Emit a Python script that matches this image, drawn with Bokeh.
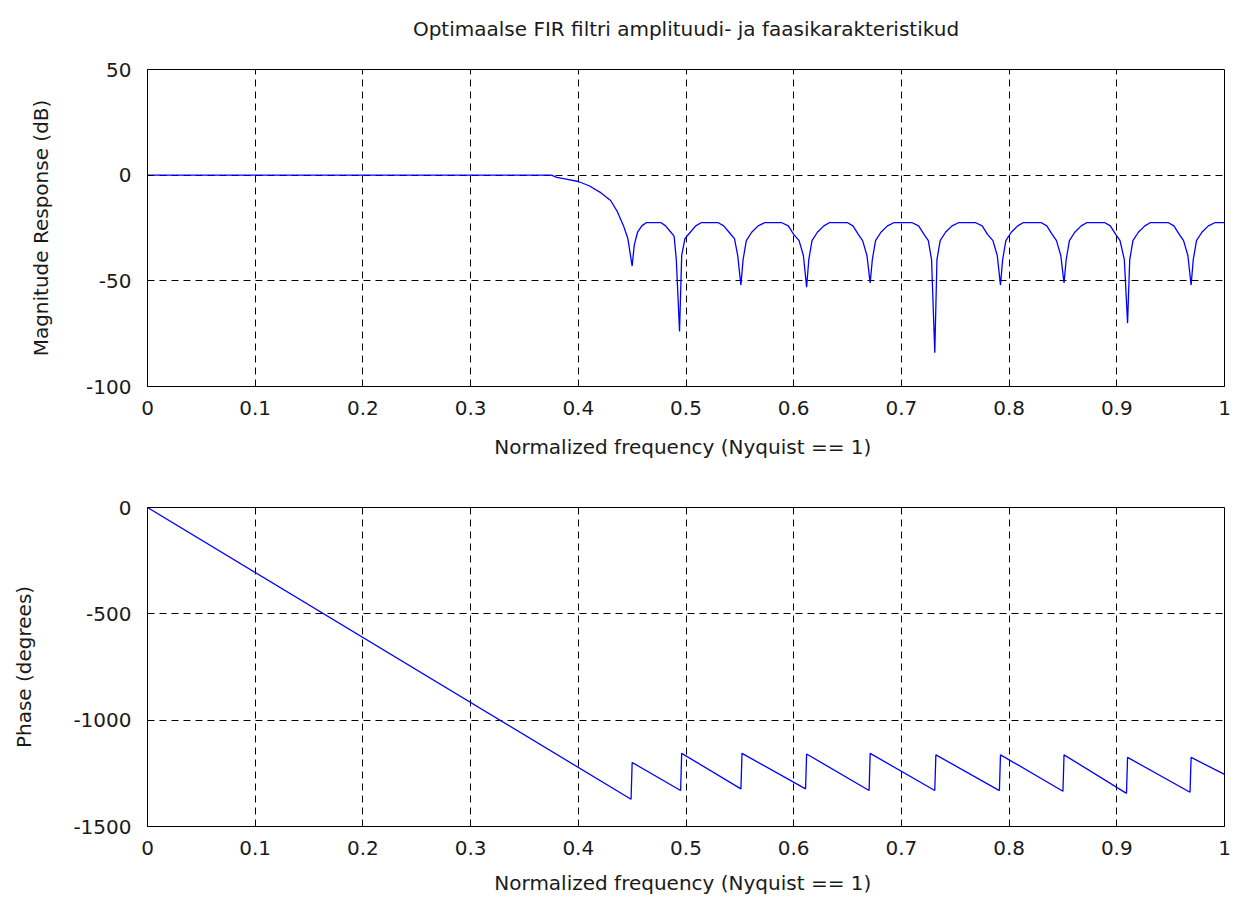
from bokeh.plotting import figure
from bokeh.models import Range1d, FixedTicker, Title
from bokeh.layouts import column
from bokeh.embed import file_html
from bokeh.resources import INLINE

# ---- data ----
mag_freq = [0.000, 0.375, 0.380, 0.390, 0.400, 0.410, 0.420, 0.430, 0.436, 0.442, 0.446, 0.450,
            0.452, 0.455, 0.459, 0.463, 0.477, 0.481, 0.486, 0.489, 0.491, 0.494,
            0.496, 0.499, 0.504, 0.509, 0.514, 0.530, 0.535, 0.540, 0.545, 0.548, 0.551,
            0.553, 0.556, 0.561, 0.567, 0.573, 0.589, 0.595, 0.600, 0.605, 0.609, 0.612,
            0.614, 0.617, 0.622, 0.628, 0.633, 0.650, 0.655, 0.660, 0.664, 0.668, 0.671,
            0.673, 0.676, 0.681, 0.687, 0.693, 0.710, 0.716, 0.721, 0.725, 0.728, 0.731,
            0.733, 0.736, 0.741, 0.747, 0.753, 0.769, 0.775, 0.780, 0.785, 0.789, 0.792,
            0.794, 0.797, 0.802, 0.808, 0.813, 0.830, 0.835, 0.840, 0.844, 0.848, 0.851,
            0.853, 0.856, 0.861, 0.867, 0.872, 0.889, 0.894, 0.899, 0.903, 0.907, 0.910,
            0.912, 0.915, 0.920, 0.926, 0.931, 0.948, 0.953, 0.958, 0.962, 0.966, 0.969,
            0.971, 0.974, 0.979, 0.985, 0.991, 1.000]
mag_db = [0.0, 0.0, -1.0, -2.0, -3.0, -5.0, -8.0, -12.0, -17.0, -24.0, -30.0, -43.0,
          -33.0, -27.0, -24.0, -22.5, -22.5, -24.0, -27.0, -29.0, -40.0, -74.0,
          -38.0, -30.0, -27.0, -24.0, -22.5, -22.5, -24.0, -27.0, -30.0, -38.0, -52.0,
          -40.0, -31.0, -27.0, -24.0, -22.5, -22.5, -24.0, -28.0, -31.0, -38.0, -53.0,
          -40.0, -31.0, -27.0, -24.0, -22.5, -22.5, -24.0, -28.0, -31.0, -38.0, -51.0,
          -40.0, -31.0, -27.0, -24.0, -22.5, -22.5, -24.0, -28.0, -31.0, -40.0, -84.0,
          -40.0, -31.0, -27.0, -24.0, -22.5, -22.5, -24.0, -28.0, -31.0, -38.0, -52.0,
          -40.0, -31.0, -27.0, -24.0, -22.5, -22.5, -24.0, -28.0, -31.0, -38.0, -51.0,
          -40.0, -31.0, -27.0, -24.0, -22.5, -22.5, -24.0, -28.0, -31.0, -40.0, -70.0,
          -40.0, -31.0, -27.0, -24.0, -22.5, -22.5, -24.0, -28.0, -31.0, -38.0, -52.0,
          -40.0, -31.0, -27.0, -24.0, -22.5, -22.5]

phase_freq = [0.000, 0.449, 0.450, 0.495, 0.496, 0.551, 0.552, 0.611, 0.612,
              0.670, 0.671, 0.731, 0.732, 0.791, 0.792, 0.850, 0.851, 0.909, 0.910,
              0.968, 0.969, 1.000]
phase_deg = [0, -1372, -1199, -1331, -1156, -1323, -1156, -1323, -1159,
             -1331, -1156, -1331, -1163, -1331, -1163, -1334, -1163, -1344, -1175,
             -1339, -1175, -1255]

x_ticks = [0, 0.1, 0.2, 0.3, 0.4, 0.5, 0.6, 0.7, 0.8, 0.9, 1.0]
x_tick_labels = ["0", "0.1", "0.2", "0.3", "0.4", "0.5", "0.6", "0.7", "0.8", "0.9", "1"]
mag_ticks = [-100, -50, 0, 50]
phase_ticks = [-1500, -1000, -500, 0]

title_text = "Optimaalse FIR filtri amplituudi- ja faasikarakteristikud"
x_label = "Normalized frequency  (Nyquist == 1)"
mag_label = "Magnitude Response (dB)"
phase_label = "Phase (degrees)"

FONT = "DejaVu Sans"
FS = "20px"


def style(p, yticks, ylabel, ylabel_standoff, xlabel_standoff):
    p.xaxis.ticker = FixedTicker(ticks=x_ticks)
    p.xaxis.major_label_overrides = {t: l for t, l in zip(x_ticks, x_tick_labels)}
    p.yaxis.ticker = FixedTicker(ticks=yticks)
    p.yaxis.major_label_overrides = {t: str(t) for t in yticks}
    p.xaxis.axis_label = x_label
    p.yaxis.axis_label = ylabel
    for ax in (p.xaxis[0], p.yaxis[0]):
        ax.axis_line_color = "black"
        ax.axis_line_width = 1
        ax.major_tick_in = 5
        ax.major_tick_out = 0
        ax.minor_tick_line_color = None
        ax.major_tick_line_color = "black"
        ax.major_label_text_font = FONT
        ax.major_label_text_font_size = FS
        ax.major_label_text_color = "#1a1a1a"
        ax.axis_label_text_font = FONT
        ax.axis_label_text_font_size = FS
        ax.axis_label_text_font_style = "normal"
        ax.axis_label_text_color = "#1a1a1a"
    p.xaxis.major_label_standoff = 14
    p.xaxis.axis_label_standoff = xlabel_standoff
    p.yaxis.major_label_standoff = 16
    p.yaxis.axis_label_standoff = ylabel_standoff
    for g in (p.xgrid[0], p.ygrid[0]):
        g.grid_line_color = "black"
        g.grid_line_dash = "7 5"
        g.grid_line_width = 1
    p.xgrid.ticker = FixedTicker(ticks=x_ticks)
    p.ygrid.ticker = FixedTicker(ticks=yticks)
    p.outline_line_color = "black"
    p.outline_line_width = 1
    p.outline_line_alpha = 1
    p.background_fill_color = "white"
    p.border_fill_color = "white"


p1 = figure(width=1236, height=480, x_range=Range1d(0, 1), y_range=Range1d(-100, 50),
            output_backend="svg", toolbar_location=None,
            min_border_left=147, min_border_right=12, min_border_top=69, min_border_bottom=94)
# spacer between frame and title (closest to frame), then the title itself
p1.add_layout(Title(text=" ", text_font_size="2px", standoff=23), "above")
p1.add_layout(Title(text=title_text, align="center", text_font=FONT, text_font_size=FS,
                    text_font_style="normal", text_color="#1a1a1a", standoff=4), "above")
style(p1, mag_ticks, mag_label, 30, 17)
p1.line(mag_freq, mag_db, line_color="#0000ff", line_width=1.3)

p2 = figure(width=1236, height=418, x_range=Range1d(0, 1), y_range=Range1d(-1500, 0),
            output_backend="svg", toolbar_location=None,
            min_border_left=147, min_border_right=12, min_border_top=27, min_border_bottom=72)
style(p2, phase_ticks, phase_label, 34, 13)
p2.line(phase_freq, phase_deg, line_color="#0000ff", line_width=1.3)

layout = column(p1, p2, spacing=0)
open("out.html", "w").write(file_html(layout, INLINE))
